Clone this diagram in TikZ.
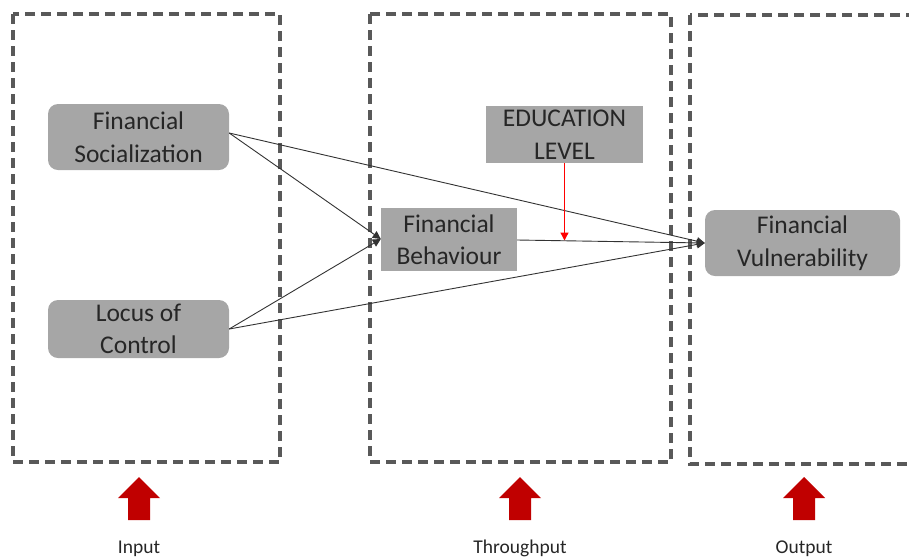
\documentclass[tikz,border=0pt]{standalone}
\usepackage{fontspec}
\setmainfont{Carlito}
\usetikzlibrary{arrows.meta}
\definecolor{boxgray}{HTML}{A6A6A6}
\definecolor{dashgray}{HTML}{595959}
\definecolor{linegray}{HTML}{333333}
\definecolor{txt}{HTML}{262626}
\definecolor{blockred}{HTML}{C00000}
\tikzset{
  stage/.style={draw=dashgray, line width=3.2pt, dash pattern=on 10pt off 6pt},
  concept/.style={fill=boxgray, text=txt, inner sep=0pt, align=center,
    font=\fontsize{25.5}{32.5}\selectfont},
  roundconcept/.style={concept, rounded corners=10pt},
  link/.style={draw=linegray, line width=0.9pt, -{Triangle[length=8pt,width=8pt]}},
  moderator/.style={draw=red, line width=1.3pt, -{Triangle[length=8pt,width=8pt]}},
  uparrow/.style={fill=blockred},
  stagelabel/.style={anchor=base, text=txt, inner sep=0pt, font=\fontsize{19.5}{22}\selectfont}
}
\begin{document}
\begin{tikzpicture}[x=1pt,y=-1pt]
\useasboundingbox (0,0) rectangle (909,558);
\begin{scope}
\clip (0,0) rectangle (909,558);
% stage frames
\draw[stage] (13,14) rectangle (280,462);
\draw[stage] (370,14) rectangle (671,462);
\draw[stage] (690,15) rectangle (930,464);
\end{scope}

% concepts
\node[roundconcept, minimum width=181pt, minimum height=66pt] (fs) at (138.5,137) {Financial\\Socialization};
\node[roundconcept, minimum width=181pt, minimum height=58pt] (loc) at (138.5,329) {Locus of\\Control};
\node[concept, minimum width=136pt, minimum height=63pt] (fb) at (449,239.5) {Financial\\Behaviour};
\node[concept, minimum width=157pt, minimum height=57pt] (edu) at (564.5,134.5) {EDUCATION\\LEVEL};
\node[roundconcept, minimum width=195pt, minimum height=66pt] (fv) at (802.5,243) {Financial\\Vulnerability};

% paths
\coordinate (fbin) at ([yshift=0.5pt]fb.west);
\coordinate (fvin) at ([yshift=0pt]fv.west);
\draw[link] ([yshift=4pt]fs.east) -- (fbin);
\draw[link] ([yshift=4pt]fs.east) -- (fvin);
\draw[link] ([yshift=0pt]loc.east) -- (fbin);
\draw[link] ([yshift=0pt]loc.east) -- (fvin);
\draw[link] ([yshift=-0.5pt]fb.east) -- (fvin);
\coordinate (mod) at (564.5,240.5);
\draw[moderator] (edu.south) -- (mod);

% stage markers
\foreach \cx/\nm/\lbl in {139/in/Input, 520/thr/Throughput, 804/out/Output}{
  \fill[uparrow] (\cx,477) -- (\cx+21,498) -- (\cx+11,498) -- (\cx+11,520)
    -- (\cx-11,520) -- (\cx-11,498) -- (\cx-21,498) -- cycle;
  \node[stagelabel] (\nm) at (\cx,553) {\lbl};
}
\end{tikzpicture}
\end{document}
